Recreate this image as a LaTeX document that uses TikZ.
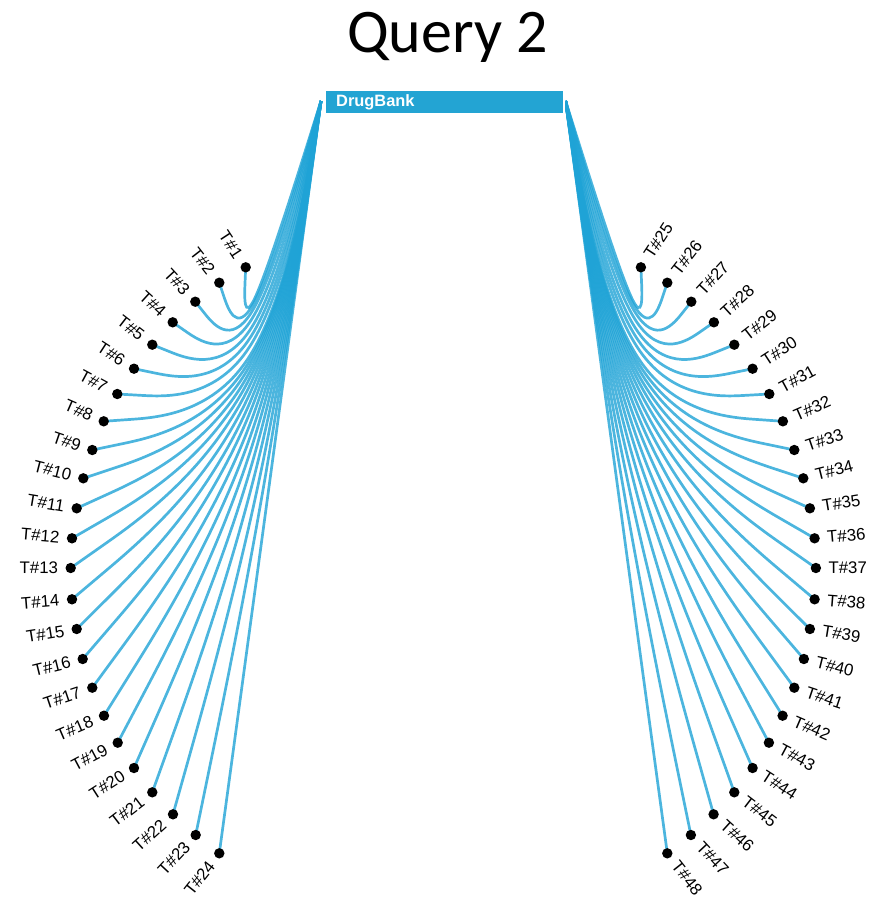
\documentclass[tikz,border=0pt]{standalone}
\usepackage{fontspec}
\setmainfont{Liberation Sans}
\newfontfamily\titlefont{Carlito}
\usetikzlibrary{calc,backgrounds}
\definecolor{linkblue}{RGB}{31,163,214}
\definecolor{barblue}{RGB}{35,164,211}
\begin{document}
\begin{tikzpicture}[x=1pt,y=-1pt,
  leafdot/.style={circle,fill=black,inner sep=0pt,minimum size=10.4pt},
  leaflab/.style={inner sep=0pt,font=\fontsize{16.8}{18}\selectfont},
  link/.style={draw=linkblue,draw opacity=0.8,line width=2.7pt},
  rootbar/.style={fill=barblue,draw=white,line width=1.5pt,minimum width=239.3pt,minimum height=24pt,inner sep=0pt,anchor=north west}]
\useasboundingbox (0,0) rectangle (875,898);
\node[font=\titlefont\fontsize{62}{70}\selectfont,anchor=base,inner sep=0pt] (title) at (447.5,52) {Query 2};
\node[rootbar] (db) at (324,89.3) {};
\node[text=white,anchor=base west,inner sep=0pt,font=\bfseries\fontsize{16.4}{18}\selectfont] (dbtext) at (336,106.5) {DrugBank};
\coordinate (dbL) at (321,101);
\coordinate (dbR) at (565.6,101);
\foreach \i/\x/\y/\kx/\ky in {
 1/245.7/267.3/242/352, 2/219.3/282.7/245/360, 3/195.3/301.7/248/368,
 4/172.7/322.3/251.5/377, 5/152.3/344.7/255/386, 6/134/368.7/258/394.3,
 7/117.3/394/261/402.1, 8/103.7/421.3/264/410, 9/92.3/450/264.6/414,
 10/83.3/478.3/265.2/418, 11/76.7/508.3/265.8/422, 12/72/538.3/266.4/426,
 13/70.7/568/267/430, 14/72/599.3/267.3/434.5, 15/76.7/629/267.5/439.1,
 16/82.7/659/267.8/443.6, 17/92.3/687.7/268.1/448.2, 18/104/715.7/268.4/452.7,
 19/117.7/742.7/268.6/457.3, 20/134/768/268.9/461.8, 21/152.3/792.3/269.2/466.4,
 22/173/814.3/269.5/470.9, 23/195.7/835/269.7/475.5, 24/219.3/853.3/270/480}{
  \pgfmathtruncatemacro\j{\i+24}
  \pgfmathsetmacro\xr{886.6-\x}
  \pgfmathsetmacro\kxr{886.6-\kx}
  % left leaf
  \node[leafdot] (t\i) at (\x,\y) {};
  \coordinate (k\i) at (\kx,\ky);
  \pgfmathsetmacro\a{atan2(569.8-\y,\x-443.3)}
  \pgfmathsetmacro\r{\a-180}
  \pgfmathsetmacro\lx{\x+12.5*cos(\a)}
  \pgfmathsetmacro\ly{\y-12.5*sin(\a)}
  \node[leaflab,anchor=east,rotate=\r] (l\i) at (\lx,\ly) {T\#\i};
  % right leaf
  \node[leafdot] (t\j) at (\xr,\y) {};
  \coordinate (k\j) at (\kxr,\ky);
  \pgfmathsetmacro\b{atan2(569.8-\y,\xr-443.3)}
  \pgfmathsetmacro\rx{\xr+12.5*cos(\b)}
  \pgfmathsetmacro\ry{\y-12.5*sin(\b)}
  \node[leaflab,anchor=west,rotate=\b] (l\j) at (\rx,\ry) {T\#\j};
}
\begin{scope}[on background layer]
\foreach \i in {1,...,24}{
  \draw[link] (t\i.center) -- ($0.833333*(t\i.center)+0.166667*(k\i)$)
    .. controls ($0.666667*(t\i.center)+0.333333*(k\i)$) and ($0.333333*(t\i.center)+0.666667*(k\i)$)
    .. ($0.166667*(t\i.center)+0.666667*(k\i)+0.166667*(dbL)$)
    .. controls ($0.666667*(k\i)+0.333333*(dbL)$) and ($0.333333*(k\i)+0.666667*(dbL)$)
    .. ($0.166667*(k\i)+0.833333*(dbL)$) -- (dbL);
}
\foreach \i in {25,...,48}{
  \draw[link] (t\i.center) -- ($0.833333*(t\i.center)+0.166667*(k\i)$)
    .. controls ($0.666667*(t\i.center)+0.333333*(k\i)$) and ($0.333333*(t\i.center)+0.666667*(k\i)$)
    .. ($0.166667*(t\i.center)+0.666667*(k\i)+0.166667*(dbR)$)
    .. controls ($0.666667*(k\i)+0.333333*(dbR)$) and ($0.333333*(k\i)+0.666667*(dbR)$)
    .. ($0.166667*(k\i)+0.833333*(dbR)$) -- (dbR);
}
\end{scope}
\end{tikzpicture}
\end{document}
